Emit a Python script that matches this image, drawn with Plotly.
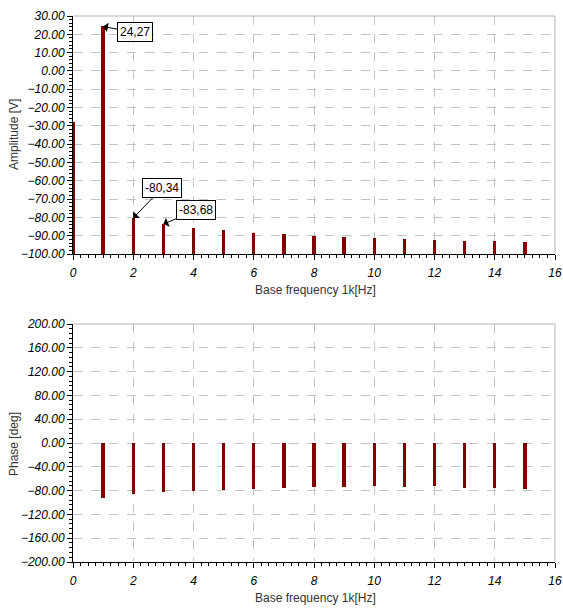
import plotly.graph_objects as go

# spectrum data
freq = [0, 1, 2, 3, 4, 5, 6, 7, 8, 9, 10, 11, 12, 13, 14, 15]
amplitude = [-28.0, 24.27, -80.34, -83.68, -85.6, -87.0, -88.7, -89.3,
             -90.4, -90.9, -91.5, -91.8, -92.4, -93.1, -93.1, -93.6]
phase = [0.0, -92, -85, -82, -81, -79, -77, -75.5,
         -74, -74, -73, -74, -73, -75.5, -75.5, -77]
amp_base = -100
labels = [(1, "24,27", 32, 6), (2, "-80,34", 29, -30), (3, "-83,68", 33, -14)]

W, H = 563, 616
RED = "#800000"


def px(x):
    return x / W


def py(y):
    return 1 - y / H


xdom = [px(73), px(555)]
top_dom = [py(254), py(16)]
bot_dom = [py(562), py(324)]

fig = go.Figure()
fig.add_trace(go.Bar(x=freq, y=[a - amp_base for a in amplitude], base=amp_base,
                     width=0.11, marker=dict(color=RED, line=dict(width=0)),
                     xaxis="x", yaxis="y"))
fig.add_trace(go.Bar(x=freq, y=phase, width=0.11,
                     marker=dict(color=RED, line=dict(width=0)),
                     xaxis="x2", yaxis="y2"))

tickfont = dict(family="Liberation Sans", size=12, color="black", style="italic")
common_x = dict(range=[0, 16], dtick=2, tick0=0, showgrid=True, gridcolor="#c4c4c4",
                griddash="dash", gridwidth=1, showline=True, linecolor="black",
                linewidth=1, ticks="outside", ticklen=5, tickcolor="black",
                ticklabelstandoff=3, ticklabeloverflow="allow",
                tickfont=tickfont, zeroline=False, domain=xdom, automargin=False,
                minor=dict(dtick=0.25, ticks="outside", ticklen=3, tickcolor="black",
                           showgrid=False))
common_y = dict(showgrid=True, gridcolor="#c4c4c4", griddash="dash", gridwidth=1,
                showline=True, linecolor="black", linewidth=1, ticks="outside",
                ticklen=5, tickcolor="black", tickfont=tickfont, tickformat=".2f",
                zeroline=False, automargin=False)

fig.update_layout(
    width=W, height=H, margin=dict(l=0, r=0, t=0, b=0),
    paper_bgcolor="white", plot_bgcolor="white", showlegend=False, bargap=0,
    xaxis=dict(common_x, anchor="y"),
    yaxis=dict(common_y, range=[-100, 30], dtick=10, domain=top_dom, anchor="x",
               minor=dict(dtick=2, ticks="outside", ticklen=3, tickcolor="black",
                          showgrid=False)),
    xaxis2=dict(common_x, anchor="y2"),
    yaxis2=dict(common_y, range=[-200, 200], dtick=40, domain=bot_dom, anchor="x2",
                minor=dict(dtick=8, ticks="outside", ticklen=3, tickcolor="black",
                           showgrid=False)),
)

# gray frame on top and right of both plots
for xr, yr in [("x domain", "y domain"), ("x2 domain", "y2 domain")]:
    fig.add_shape(type="line", xref=xr, yref=yr, x0=0, x1=1, y0=1, y1=1,
                  line=dict(color="#b4b4b4", width=1))
    fig.add_shape(type="line", xref=xr, yref=yr, x0=1, x1=1, y0=0, y1=1,
                  line=dict(color="#b4b4b4", width=1))

# value callouts
for i, txt, ax, ay in labels:
    fig.add_annotation(x=freq[i], y=amplitude[i], xref="x", yref="y", text=txt,
                       showarrow=True, arrowhead=1, arrowsize=1.6, arrowwidth=1,
                       arrowcolor="black", ax=ax, ay=ay, bordercolor="black",
                       borderwidth=1, borderpad=2, bgcolor="white",
                       font=dict(family="Liberation Sans", size=12, color="black"))

titlefont = dict(family="Liberation Sans", size=12, color="#333333")
ttl = dict(xref="paper", yref="paper", showarrow=False, font=titlefont,
           xanchor="center", yanchor="middle")
fig.add_annotation(x=px(14), y=py(135), text="Amplitude [V]", textangle=-90, **ttl)
fig.add_annotation(x=px(14), y=py(444), text="Phase [deg]", textangle=-90, **ttl)
fig.add_annotation(x=px(315), y=py(290), text="Base frequency 1k[Hz]", **ttl)
fig.add_annotation(x=px(315), y=py(598), text="Base frequency 1k[Hz]", **ttl)

# drop the default page margin so the figure fills the window exactly
fig.write_html("out.html", config={"displayModeBar": False},
               post_script="document.body.style.margin='0';"
                           "document.body.style.overflow='hidden';")
